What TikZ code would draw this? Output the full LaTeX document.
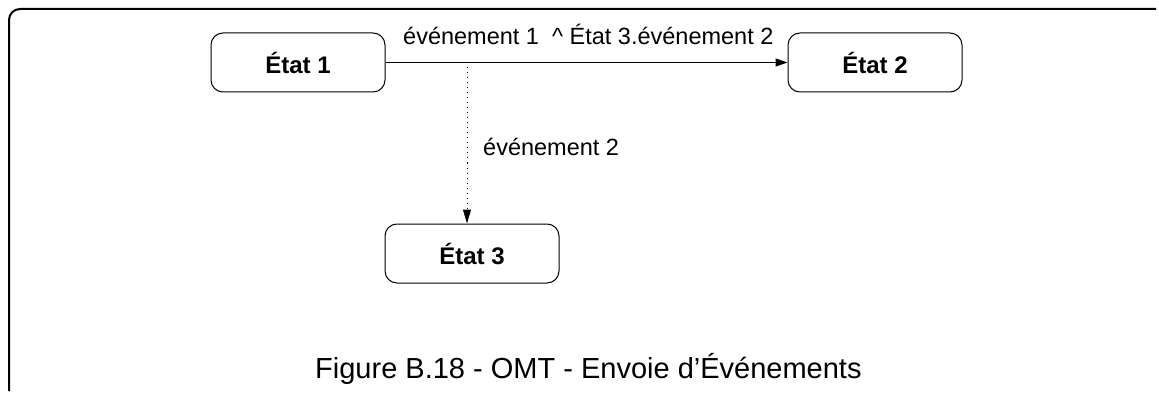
\documentclass[tikz,border=0pt]{standalone}
\usepackage{fontspec}
\setmainfont{Liberation Sans}
\usetikzlibrary{arrows.meta}
\tikzset{
  statebox/.style={draw, line width=1pt, rounded corners=12pt, minimum width=174pt, minimum height=59pt, inner sep=0pt, font=\fontsize{24}{28}\selectfont\bfseries},
  lbl/.style={inner sep=0pt, anchor=base west, font=\fontsize{23.5}{28}\selectfont},
  frameline/.style={line width=2pt, rounded corners=11pt},
}
\begin{document}
\begin{tikzpicture}[x=1pt, y=-1pt]
\useasboundingbox (0,0) rectangle (1159,393);
\draw[frameline] (9,391) -- (9,9) -- (1156,9);
\node[statebox] (s1) at (298,62.5) {État 1};
\node[statebox] (s2) at (875,62.5) {État 2};
\node[statebox] (s3) at (472,253.5) {État 3};
\draw[line width=1pt, -{Triangle[length=12pt,width=8pt]}] (s1.east) -- (s2.west);
\coordinate (j) at (467,62.5);
\draw[line width=1pt, dash pattern=on 1pt off 4pt, -{Triangle[length=14pt,width=8pt]}] (j) -- (j |- s3.north);
\node[lbl] (l1) at (403,45) {événement 1\ \ \^{} État 3.événement 2};
\node[lbl] (l2) at (483,155) {événement 2};
\node[inner sep=0pt, anchor=base west, font=\fontsize{29}{34}\selectfont] (cap) at (315,378) {Figure B.18 - OMT - Envoie d’Événements};
\end{tikzpicture}
\end{document}
